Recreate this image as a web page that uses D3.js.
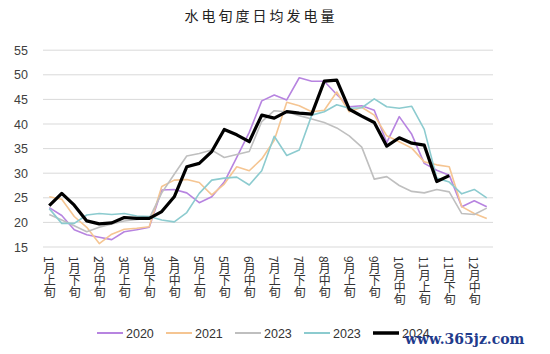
<!DOCTYPE html>
<html lang="zh">
<head>
<meta charset="utf-8" />
<title>水电旬度日均发电量</title>
<script src="https://cdn.jsdelivr.net/npm/d3@7"></script>
<style>
  body { margin: 0; background: #fff; }
</style>
</head>
<body>
<div id="chart"></div>
<script>
var periods = ["1月上旬","1月中旬","1月下旬","2月上旬","2月中旬","2月下旬",
  "3月上旬","3月中旬","3月下旬","4月上旬","4月中旬","4月下旬",
  "5月上旬","5月中旬","5月下旬","6月上旬","6月中旬","6月下旬",
  "7月上旬","7月中旬","7月下旬","8月上旬","8月中旬","8月下旬",
  "9月上旬","9月中旬","9月下旬","10月上旬","10月中旬","10月下旬",
  "11月上旬","11月中旬","11月下旬","12月上旬","12月中旬","12月下旬"];

var v2020 = [23.0,21.4,18.5,17.5,17.0,16.5,18.1,18.5,19.0,26.6,26.7,26.0,24.0,25.2,28.2,33.2,38.3,44.7,
  45.9,44.9,49.4,48.7,48.7,46.0,43.5,43.7,42.8,36.2,41.5,37.9,32.0,30.6,29.6,23.2,24.4,23.2];
var v2021 = [25.2,24.7,21.2,19.0,15.7,17.6,18.6,18.8,19.1,27.3,28.6,28.7,28.1,25.6,27.8,31.3,30.5,32.9,
  36.7,44.4,43.7,42.5,42.8,46.5,42.5,43.4,41.8,37.6,36.4,35.1,32.3,31.7,31.3,23.2,21.8,20.8];
var v2023a = [21.6,20.5,19.3,18.1,19.0,19.7,20.3,20.6,20.8,26.0,29.8,33.5,34.0,34.7,33.2,33.8,34.4,40.5,
  42.7,42.5,41.7,41.0,40.3,39.2,37.6,35.3,28.8,29.3,27.5,26.3,26.0,26.7,26.2,21.8,21.6,22.9];
var v2023b = [22.8,19.8,19.8,21.5,21.8,21.6,21.8,21.3,21.2,20.5,20.1,22.0,25.9,28.6,29.0,29.2,27.6,30.5,
  37.5,33.6,34.7,41.8,42.5,43.9,43.2,43.3,45.1,43.5,43.2,43.6,38.9,29.0,28.2,25.8,26.7,25.0];
var v2024 = [23.4,25.9,23.5,20.3,19.7,19.9,21.0,20.8,20.8,22.2,25.2,31.3,32.0,34.4,38.9,37.8,36.4,41.8,
  41.2,42.5,42.2,42.0,48.7,48.9,43.0,41.6,40.3,35.5,37.2,36.1,35.7,28.3,29.5];

var seriesNames = ["2020", "2021", "2023", "2023", "2024"];
var seriesValues = [v2020, v2021, v2023a, v2023b, v2024];
var seriesColors = ["#b784e0", "#f5c592", "#bfbfbf", "#8ccbcf", "#000000"];
var seriesWidths = [1.6, 1.6, 1.6, 1.6, 3.2];
var yTicks = [15, 20, 25, 30, 35, 40, 45, 50, 55];

var width = 550;
var height = 354;
var plotLeft = 43, plotRight = 493, plotTop = 50.2, plotBottom = 247;

var svg = d3.select("#chart")
  .append("svg")
  .attr("width", width)
  .attr("height", height);

svg.append("text")
  .attr("x", 261)
  .attr("y", 21)
  .attr("text-anchor", "middle")
  .attr("letter-spacing", 3)
  .style("font-family", "'Noto Sans CJK SC'")
  .style("font-size", "14px")
  .attr("fill", "#222")
  .text("水电旬度日均发电量");

var xScale = d3.scalePoint()
  .domain(d3.range(periods.length))
  .range([plotLeft, plotRight])
  .padding(0.5);

var yScale = d3.scaleLinear()
  .domain([15, 55])
  .range([plotBottom, plotTop]);

//gridlines
svg.append("g")
  .selectAll("line")
  .data(yTicks)
  .enter()
  .append("line")
  .attr("x1", plotLeft)
  .attr("x2", plotRight)
  .attr("y1", function(d) { return yScale(d); })
  .attr("y2", function(d) { return yScale(d); })
  .attr("stroke", "#d9d9d9")
  .attr("stroke-width", 1);

var yAxis = d3.axisLeft(yScale)
  .tickValues(yTicks)
  .tickSize(0)
  .tickPadding(15);

var gy = svg.append("g")
  .attr("transform", "translate(" + plotLeft + ",0)")
  .call(yAxis);
gy.select(".domain").remove();
gy.selectAll("text")
  .style("font-family", "'Liberation Sans', Arial, sans-serif")
  .style("font-size", "12.5px")
  .attr("fill", "#404040");

var xAxis = d3.axisBottom(xScale)
  .tickValues(d3.range(0, periods.length, 2))
  .tickSize(0)
  .tickFormat(function(i) { return periods[i]; });

var gx = svg.append("g")
  .attr("transform", "translate(0," + plotBottom + ")")
  .call(xAxis);
gx.select(".domain").remove();
gx.selectAll("text")
  .attr("y", 9)
  .attr("dy", null)
  .attr("text-anchor", "start")
  .style("writing-mode", "vertical-rl")
  .style("text-orientation", "mixed")
  .style("font-family", "'Noto Sans CJK SC'")
  .style("font-size", "12px")
  .attr("fill", "#333");

//lines
var line = d3.line()
  .x(function(d, i) { return xScale(i); })
  .y(function(d) { return yScale(d); });

seriesValues.forEach(function(vals, k) {
  svg.append("path")
    .datum(vals)
    .attr("d", line)
    .attr("fill", "none")
    .attr("stroke", seriesColors[k])
    .attr("stroke-width", seriesWidths[k])
    .attr("stroke-linejoin", "round");
});

//legend
var legend = svg.append("g")
  .selectAll("g")
  .data(seriesNames)
  .enter()
  .append("g")
  .attr("transform", function(d, k) { return "translate(" + (97 + k * 69) + ",333)"; });

legend.append("line")
  .attr("x1", 0)
  .attr("x2", 26)
  .attr("stroke", function(d, k) { return seriesColors[k]; })
  .attr("stroke-width", function(d, k) { return k == 4 ? 3.5 : 2; });

legend.append("text")
  .attr("x", 29)
  .attr("y", 4.5)
  .style("font-family", "'Liberation Sans', Arial, sans-serif")
  .style("font-size", "12.5px")
  .attr("fill", "#333")
  .text(function(d) { return d; });

svg.append("text")
  .attr("x", 405)
  .attr("y", 344)
  .style("font-family", "'DejaVu Serif', serif")
  .style("font-size", "14px")
  .style("font-weight", "bold")
  .attr("fill", "#1f3b8c")
  .text("www.365jz.com");
</script>
</body>
</html>
